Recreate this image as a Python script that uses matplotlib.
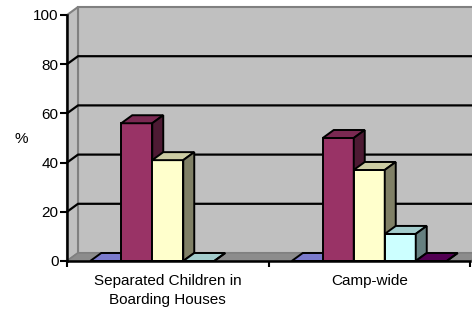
import numpy as np
import matplotlib
matplotlib.use("Agg")
import matplotlib.pyplot as plt
from matplotlib.patches import Polygon
from matplotlib.colors import to_rgb

plt.rcParams['font.family'] = ['Liberation Sans', 'DejaVu Sans']

categories = ["Separated Children in\nBoarding Houses", "Camp-wide"]
series_names = ["S1", "S2", "S3", "S4", "S5"]
series_values = [
    [0, 0],
    [56, 50],
    [41, 37],
    [0, 11],
    [np.nan, 0],
]
series_colors = ["#9999FF", "#993366", "#FFFFCC", "#CCFFFF", "#660066"]
yticks = [0, 20, 40, 60, 80, 100]

W, H = 472, 313
fig = plt.figure(figsize=(W / 100, H / 100), dpi=100)
left_px, right_px, top_px, bot_px = 67, 470, 15, 261
ax = fig.add_axes([left_px / W, (H - bot_px) / H, (right_px - left_px) / W, (bot_px - top_px) / H])
ax.set_xlim(-0.5, len(categories) - 0.5)
ax.set_ylim(0, 100)
ax.patch.set_visible(False)

# depth offset in data units
dx_px, dy_px = 11, 8
xr = len(categories)
ddx = dx_px / (right_px - left_px) * xr
ddy = dy_px / (bot_px - top_px) * 100

x0w, x1w = -0.5, len(categories) - 0.5
wall_c = "#C0C0C0"
edge_c = "#808080"
# back wall
ax.add_patch(Polygon([(x0w + ddx, ddy), (x1w + ddx, ddy), (x1w + ddx, 100 + ddy), (x0w + ddx, 100 + ddy)],
                     closed=True, fc=wall_c, ec=edge_c, lw=1.5, clip_on=False, zorder=1))
# side wall
ax.add_patch(Polygon([(x0w, 0), (x0w + ddx, ddy), (x0w + ddx, 100 + ddy), (x0w, 100)],
                     closed=True, fc=wall_c, ec=edge_c, lw=1.5, clip_on=False, zorder=1))
# floor
ax.add_patch(Polygon([(x0w, 0), (x1w, 0), (x1w + ddx, ddy), (x0w + ddx, ddy)],
                     closed=True, fc="#8C8C8C", ec=edge_c, lw=1.0, clip_on=False, zorder=1.5))
# gridlines
for v in yticks[1:-1]:
    ax.plot([x0w, x0w + ddx, x1w + ddx], [v, v + ddy, v + ddy], color="black", lw=1.6,
            clip_on=False, zorder=2, solid_capstyle="butt")

def shade(c, f):
    r, g, b = to_rgb(c)
    return (r * f, g * f, b * f)

bw = 31 / ((right_px - left_px) / xr)
n = len(series_values)
xs = np.arange(len(categories))
z = 3
for ci in range(len(categories)):
    for si in range(n):
        h = series_values[si][ci]
        if np.isnan(h):
            continue
        col = series_colors[si]
        xc = xs[ci] + (si - (n - 1) / 2) * bw
        xa, xb = xc - bw / 2, xc + bw / 2
        ax.bar([xc], [h], width=bw, color=col, edgecolor="black", lw=1.4, zorder=z, clip_on=False)
        ax.add_patch(Polygon([(xa, h), (xb, h), (xb + ddx, h + ddy), (xa + ddx, h + ddy)], closed=True,
                             fc=shade(col, 0.8), ec="black", lw=1.4, zorder=z, clip_on=False,
                             joinstyle="miter"))
        ax.add_patch(Polygon([(xb, 0), (xb + ddx, ddy), (xb + ddx, h + ddy), (xb, h)], closed=True,
                             fc=shade(col, 0.5), ec="black", lw=1.4, zorder=z, clip_on=False,
                             joinstyle="miter"))
        z += 1

for s in ["top", "right"]:
    ax.spines[s].set_visible(False)
ax.spines["left"].set_linewidth(1.8)
ax.spines["bottom"].set_linewidth(1.8)
ax.spines["left"].set_zorder(50)
ax.spines["bottom"].set_zorder(50)

fs = 11
ax.set_yticks(yticks)
ax.set_yticklabels([str(t) for t in yticks], fontsize=fs)
ax.tick_params(axis="y", length=5, width=1.5, direction="out", pad=1)
ax.set_xticks([x0w + i for i in range(len(categories) + 1)])
ax.set_xticklabels([])
ax.set_xticks(xs, minor=True)
ax.set_xticklabels(categories, minor=True, fontsize=fs, linespacing=1.5, va="top")
ax.tick_params(axis="x", which="major", length=4, width=1.5, direction="out")
ax.tick_params(axis="x", which="minor", length=0, pad=9)
ax.set_ylabel("%", rotation=0, fontsize=fs, va="center", ha="center")
ax.yaxis.set_label_coords((21 - left_px) / (right_px - left_px), (bot_px - 139) / (bot_px - top_px))

fig.savefig("out.png", dpi=100, facecolor="white")
